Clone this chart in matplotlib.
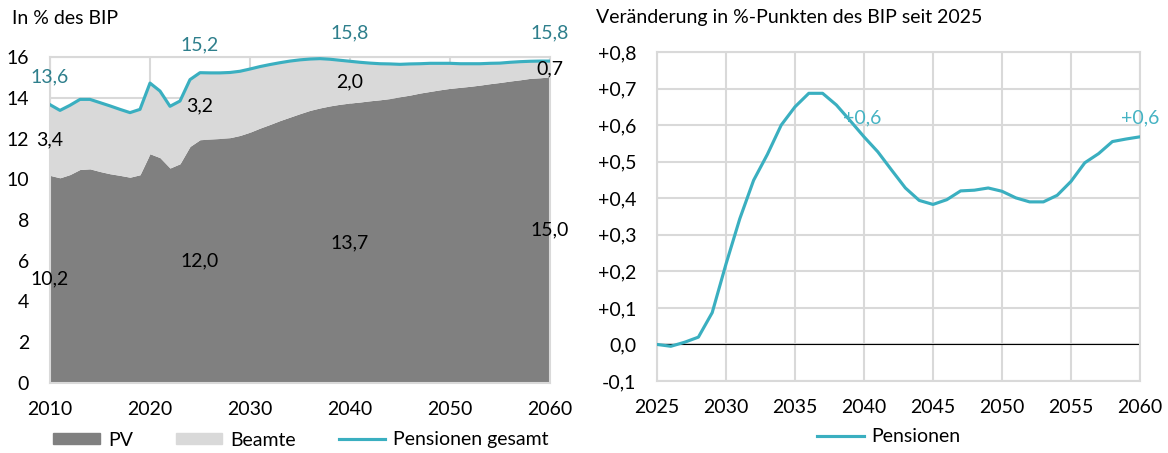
import matplotlib.pyplot as plt
from matplotlib.patches import Patch
from matplotlib.lines import Line2D
from matplotlib.ticker import FuncFormatter

plt.rcParams['font.family'] = ['Lato', 'DejaVu Sans']

# left chart: pension spending in % of GDP
years_left = list(range(2010, 2061))
pv = [10.19, 10.07, 10.23, 10.48, 10.51, 10.38, 10.27, 10.19, 10.10, 10.22,
      11.25, 11.06, 10.55, 10.76, 11.61, 11.94, 11.97, 12.00, 12.04, 12.15,
      12.31, 12.51, 12.69, 12.88, 13.05, 13.22, 13.38, 13.50, 13.60, 13.68,
      13.74, 13.79, 13.85, 13.90, 13.96, 14.05, 14.13, 14.23, 14.31, 14.39,
      14.46, 14.51, 14.56, 14.62, 14.69, 14.75, 14.82, 14.88, 14.95, 14.98,
      15.02]
total = [13.66, 13.38, 13.63, 13.92, 13.92, 13.76, 13.60, 13.43, 13.27, 13.43,
         14.72, 14.33, 13.58, 13.84, 14.89, 15.23, 15.22, 15.22, 15.24, 15.30,
         15.41, 15.53, 15.63, 15.72, 15.80, 15.86, 15.90, 15.92, 15.89, 15.84,
         15.79, 15.74, 15.70, 15.67, 15.66, 15.64, 15.66, 15.67, 15.69, 15.69,
         15.69, 15.67, 15.67, 15.67, 15.69, 15.70, 15.74, 15.77, 15.79, 15.80,
         15.80]
beamte = [t - p for t, p in zip(total, pv)]

label_years = [2010, 2025, 2040, 2060]
label_total = ['13,6', '15,2', '15,8', '15,8']
label_beamte = ['3,4', '3,2', '2,0', '0,7']
label_pv = ['10,2', '12,0', '13,7', '15,0']

# right chart: change since 2025 in percentage points
years_right = list(range(2025, 2061))
change = [0.000, -0.005, 0.006, 0.020, 0.087, 0.220, 0.344, 0.449, 0.520, 0.600,
          0.650, 0.687, 0.687, 0.655, 0.612, 0.568, 0.527, 0.477, 0.428, 0.394,
          0.383, 0.396, 0.420, 0.422, 0.428, 0.419, 0.401, 0.390, 0.390, 0.408,
          0.446, 0.497, 0.522, 0.555, 0.562, 0.568]
change_label_years = [2039.9, 2060]
change_labels = ['+0,6', '+0,6']

dark_grey = '#808080'
light_grey = '#d9d9d9'
teal = '#3aafc0'
teal_dark = '#2e7f8c'
teal_label = '#45b3c3'
grid_col = '#d9d9d9'

fig = plt.figure(figsize=(11.68, 4.53), dpi=100)
ax1 = fig.add_axes([50/1168, 1 - 383/453, 500/1168, 326/453])
ax2 = fig.add_axes([657/1168, 1 - 381/453, 483/1168, 329/453])

# ---- left chart
ax1.fill_between(years_left, 0, pv, color=dark_grey, lw=0, zorder=2)
ax1.fill_between(years_left, pv, total, color=light_grey, lw=0, zorder=2)
ax1.plot(years_left, total, color=teal, lw=2.25, zorder=3)
ax1.set_xlim(2010, 2060)
ax1.set_ylim(0, 16)
ax1.set_xticks(range(2010, 2061, 10))
ax1.set_yticks(range(0, 17, 2))
ax1.grid(True, color=grid_col, lw=1.5, zorder=0)
ax1.set_axisbelow(True)
for s in ax1.spines.values():
    s.set_color(grid_col)
    s.set_linewidth(1.5)
ax1.tick_params(length=0, labelsize=14, pad=13)
ax1.tick_params(axis='y', pad=15)

for yr, t_txt, b_txt, p_txt in zip(label_years, label_total, label_beamte, label_pv):
    i = years_left.index(yr)
    ax1.annotate(t_txt, (yr, total[i]), xytext=(0, 14), textcoords='offset points',
                 ha='center', va='bottom', color=teal_dark, fontsize=14,
                 annotation_clip=False)
    ax1.annotate(b_txt, (yr, pv[i] + beamte[i] / 2), ha='center', va='center',
                 fontsize=14, color='black', annotation_clip=False)
    ax1.annotate(p_txt, (yr, pv[i] / 2), ha='center', va='center',
                 fontsize=14, color='black', annotation_clip=False)

fig.text(12/1168, 1 - 18/453, 'In % des BIP', fontsize=14, va='center', ha='left')

handles1 = [Patch(color=dark_grey), Patch(color=light_grey),
            Line2D([], [], color=teal, lw=2.25)]
fig.legend(handles1, ['PV', 'Beamte', 'Pensionen gesamt'], loc='center',
           bbox_to_anchor=(301/1168, 1 - 440/453), ncol=3, frameon=False,
           fontsize=14, handlelength=2.4, handleheight=0.55, columnspacing=2.2,
           handletextpad=0.4)

# ---- right chart
ax2.plot(years_right, change, color=teal, lw=2.25, zorder=3)
ax2.axhline(0, color='black', lw=0.8, zorder=2)
ax2.set_xlim(2025, 2060)
ax2.set_ylim(-0.1, 0.8)
ax2.set_xticks(range(2025, 2061, 5))
ax2.set_yticks([i / 10 for i in range(-1, 9)])
ax2.yaxis.set_major_formatter(FuncFormatter(
    lambda v, p: '0,0' if abs(v) < 1e-9 else ('%+.1f' % v).replace('.', ',')))
ax2.grid(True, color=grid_col, lw=1.5, zorder=0)
ax2.set_axisbelow(True)
for s in ax2.spines.values():
    s.set_color(grid_col)
    s.set_linewidth(1.5)
ax2.tick_params(length=0, labelsize=14, pad=13)
ax2.tick_params(axis='y', pad=15)

for yr, txt in zip(change_label_years, change_labels):
    ax2.annotate(txt, (yr, 0.62), ha='center', va='center',
                 color=teal_label, fontsize=14, annotation_clip=False)

fig.text(596/1168, 1 - 18/453, 'Veränderung in %-Punkten des BIP seit 2025',
         fontsize=14, va='center', ha='left')

fig.legend([Line2D([], [], color=teal, lw=2.25)], ['Pensionen'], loc='center',
           bbox_to_anchor=(889/1168, 1 - 437/453), frameon=False, fontsize=14,
           handlelength=2.4, handletextpad=0.4)

fig.savefig('out.png', dpi=100)
